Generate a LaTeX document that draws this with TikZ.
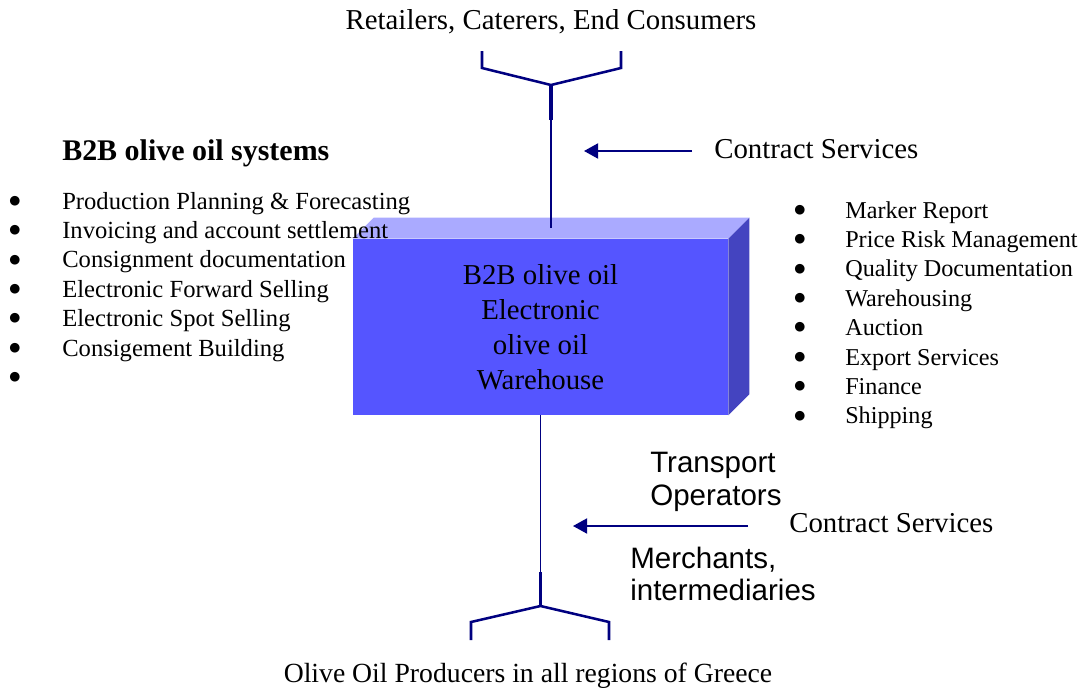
\documentclass[tikz,border=0pt]{standalone}
\usepackage{fontspec}
\setmainfont{Liberation Serif}
\newfontfamily\arialfont{Liberation Sans}
\newfontfamily\dotfont{DejaVu Sans}
\usetikzlibrary{arrows.meta}
\definecolor{navyline}{RGB}{0,0,128}
\definecolor{boxfront}{RGB}{85,85,255}
\definecolor{boxtop}{RGB}{170,170,255}
\definecolor{boxside}{RGB}{68,68,192}

\begin{document}
\begin{tikzpicture}[x=0.025cm,y=-0.025cm]
  \tikzstyle{big}=[font=\fontsize{20.5}{24.9}\selectfont, inner sep=0pt]
  \tikzstyle{item}=[font=\fontsize{17.2}{21}\selectfont, inner sep=0pt, anchor=base west]
  \tikzstyle{dot}=[font=\dotfont\fontsize{9}{9}\selectfont, inner sep=0pt, anchor=center]
  \tikzstyle{sans}=[font=\arialfont\fontsize{21}{23.5}\selectfont, inner sep=0pt, anchor=base west]
  \tikzstyle{link}=[draw=navyline, line width=1.3pt]
  \tikzstyle{fork}=[draw=navyline, line width=1.8pt]
  \tikzstyle{svc}=[navyline, line width=1.3pt, -{Triangle[length=10pt,width=10.7pt]}]
  \useasboundingbox (0,0) rectangle (1086,698);

  % warehouse box
  \node[big, fill=boxfront, minimum width=9.375cm, minimum height=4.4cm, align=center] (W) at (540.5,327)
    {B2B olive oil\\Electronic\\olive oil\\Warehouse};
  \fill[boxtop] (W.north west) -- ([shift={(21,-21)}]W.north west)
    -- ([shift={(21,-21)}]W.north east) -- (W.north east) -- cycle;
  \fill[boxside] (W.north east) -- ([shift={(21,-21)}]W.north east)
    -- ([shift={(21,-21)}]W.south east) -- (W.south east) -- cycle;

  % top fork
  \coordinate (tj) at (551,85);
  \coordinate (tl) at (482,68);  \coordinate (tl0) at (482,51);
  \coordinate (tr) at (621,68);  \coordinate (tr0) at (621,51);
  \coordinate (ts) at (551,120);
  \coordinate (tw) at (551,228);
  \draw[fork] (tl0) -- (tl) -- (tj) -- (tr) -- (tr0);
  \draw[fork, line width=2.3pt] (tj) -- (ts);
  \draw[link] (ts) -- (tw);

  % bottom fork
  \coordinate (bs) at (540.5,572);
  \coordinate (bj) at (540.5,606);
  \coordinate (bl) at (471,622);  \coordinate (bl0) at (471,640);
  \coordinate (br) at (609,622);  \coordinate (br0) at (609,640);
  \draw[link] (W.south) -- (bs);
  \draw[fork, line width=2.3pt] (bs) -- (bj);
  \draw[fork] (bl0) -- (bl) -- (bj) -- (br) -- (br0);

  % end points
  \node[big, anchor=base] (retail) at (551,29) {Retailers, Caterers, End Consumers};
  \node[big, anchor=base, font=\fontsize{19.7}{24}\selectfont] (growers) at (528,682)
    {Olive Oil Producers in all regions of Greece};

  % systems list
  \node[big, anchor=base west, font=\fontsize{21.3}{25}\selectfont\bfseries] (sys) at (62,160) {B2B olive oil systems};
  \foreach \t [count=\i] in {Production Planning \& Forecasting, Invoicing and account settlement,
      Consignment documentation, Electronic Forward Selling, Electronic Spot Selling,
      Consigement Building, {}}
  {
    \node[item, font=\fontsize{17.5}{21}\selectfont] (L\i) at (62,{209+29.4*(\i-1)}) {\t};
    \node[dot] (LB\i) at (15,{201+29.4*(\i-1)}) {●};
  }

  % services list
  \foreach \t [count=\i] in {Marker Report, Price Risk Management, Quality Documentation,
      Warehousing, Auction, Export Services, Finance, Shipping}
  {
    \node[item] (R\i) at (845,{218+29.4*(\i-1)}) {\t};
    \node[dot] (RB\i) at (800,{210+29.4*(\i-1)}) {●};
  }

  % contract services
  \node[big, anchor=base west] (ctop) at (714,158) {Contract Services};
  \coordinate (ctA) at (692,151);  \coordinate (ctB) at (584,151);
  \draw[svc] (ctA) -- (ctB);

  \node[big, anchor=base west] (cbot) at (789,532) {Contract Services};
  \coordinate (cbA) at (748,526);  \coordinate (cbB) at (573,526);
  \draw[svc] (cbA) -- (cbB);

  \node[sans] (trans) at (650,472) {Transport};
  \node[sans] (oper) at (650,505) {Operators};
  \node[sans] (merch) at (630,568) {Merchants,};
  \node[sans] (inter) at (630,600) {intermediaries};
\end{tikzpicture}
\end{document}
